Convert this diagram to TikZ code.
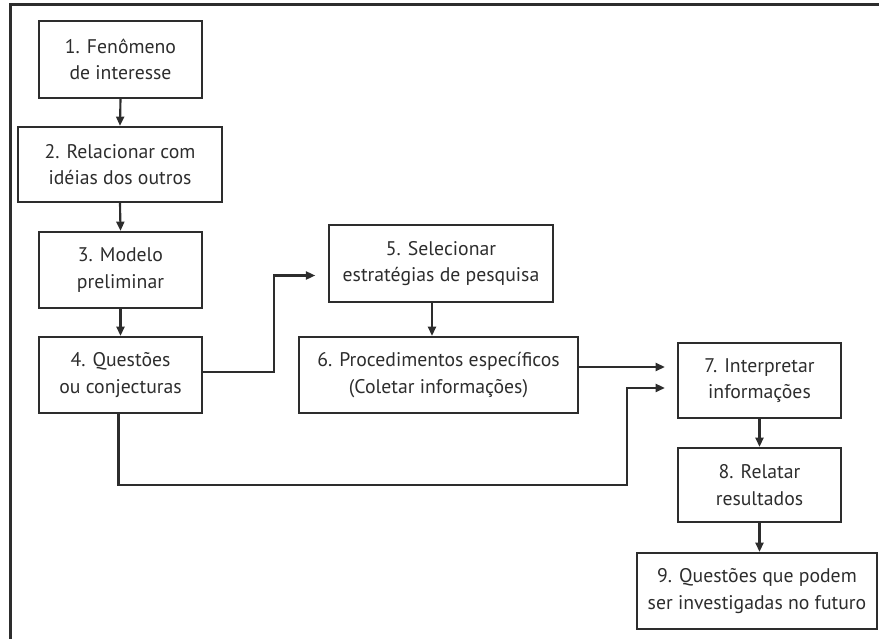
\documentclass[tikz,border=0pt]{standalone}
\usepackage{fontspec}
\setmainfont{PT Sans}
\usetikzlibrary{arrows.meta}

\definecolor{lineGray}{RGB}{45,45,45}
\tikzset{every picture/.style={line width=0.75pt}}
\tikzset{
  stepbox/.style={draw=lineGray, line width=1.6pt, align=center, inner sep=0pt,
    font=\fontsize{14.8}{20}\selectfont, text=lineGray},
  flow/.style={draw=lineGray, line width=1.6pt,
    -{Triangle[length=7pt,width=6pt]}}
}

\begin{document}
\begin{tikzpicture}[x=0.75pt,y=0.75pt,yscale=-1,xscale=1]
\clip (0,0) rectangle (879,639);
%Shape: Rectangle (outer frame)
\draw [draw=lineGray, line width=1.6pt] (10.5,4.5) rectangle (900,700);

% Text Node
\node [stepbox, minimum width=122.25pt, minimum height=57.75pt] (b1) at (120.5,59.5) {1. Fenômeno\\de interesse};
% Text Node
\node [stepbox, minimum width=153pt, minimum height=56.25pt] (b2) at (120,164.5) {2. Relacionar com\\idéias dos outros};
% Text Node
\node [stepbox, minimum width=122.25pt, minimum height=57pt] (b3) at (120.5,270) {3. Modelo\\preliminar};
% Text Node
\node [stepbox, minimum width=122.25pt, minimum height=57pt] (b4) at (120.5,375) {4. Questões\\ou conjecturas};
% Text Node
\node [stepbox, minimum width=168pt, minimum height=57.75pt] (b5) at (441,263.5) {5. Selecionar\\estratégias de pesquisa};
% Text Node
\node [stepbox, minimum width=209.25pt, minimum height=57pt] (b6) at (438.5,375) {6. Procedimentos específicos\\(Coletar informações)};
% Text Node
\node [stepbox, minimum width=122.25pt, minimum height=56.25pt] (b7) at (759.5,380.5) {7. Interpretar\\informações};
% Text Node
\node [stepbox, minimum width=122.25pt, minimum height=55.5pt] (b8) at (759.5,485) {8. Relatar\\resultados};
% Text Node
\node [stepbox, minimum width=180pt, minimum height=57pt] (b9) at (757,591) {9. Questões que podem\\ser investigadas no futuro};

\coordinate (bend) at (627,485);

%Straight Lines
\draw [flow] (b1.south) -- (b2.north);
\draw [flow] (b2.south) -- (b3.north);
\draw [flow] (b3.south) -- (b4.north);
\draw [flow] ([xshift=-6.75pt]b5.south) -- ([xshift=-6.75pt]b5.south |- b6.north);
\draw [flow] (b7.south) -- (b8.north);
\draw [flow] (b8.south) -- (b8.south |- b9.north);
%Straight Lines (elbows)
\draw [flow, shorten >=9.5pt] ([yshift=-2pt]b4.east) -- ++(71,0) |- ([yshift=9pt]b5.west);
\draw [flow, shorten >=9pt] ([yshift=-6pt]b6.east) -- ([yshift=-6pt]b6.east -| b7.west);
\draw [flow, shorten >=9pt] ([xshift=-1.5pt]b4.south) |- (bend) |- ([yshift=5.6pt]b7.west);

\end{tikzpicture}
\end{document}
